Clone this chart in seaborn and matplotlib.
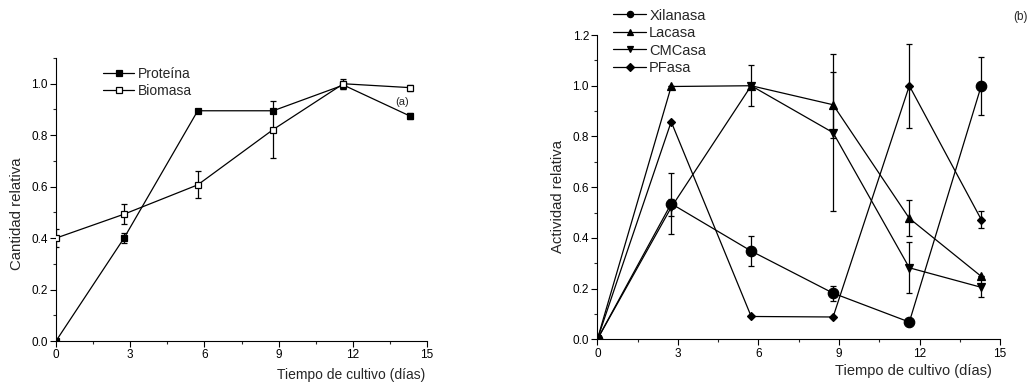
import matplotlib
matplotlib.use("Agg")
import matplotlib.pyplot as plt
from matplotlib.ticker import MultipleLocator
import seaborn as sns
import pandas as pd

sns.set_theme(style="ticks")
plt.rcParams["font.family"] = ["Liberation Sans", "DejaVu Sans"]

# Cultivation days (shared by both panels)
dias = [0, 2.75, 5.73, 8.78, 11.62, 14.3]

# Panel (a): relative amounts
proteina = [0.0, 0.40, 0.895, 0.895, 0.995, 0.875]
proteina_err = [0.0, 0.02, 0.0, 0.0, 0.015, 0.012]
biomasa = [0.40, 0.493, 0.607, 0.822, 1.0, 0.985]
biomasa_err = [0.035, 0.04, 0.053, 0.11, 0.02, 0.012]

# Panel (b): relative enzyme activities
xilanasa = [0.0, 0.535, 0.348, 0.182, 0.068, 1.0]
xilanasa_err = [0.0, 0.121, 0.06, 0.03, 0.0, 0.115]
lacasa = [0.0, 0.997, 1.0, 0.925, 0.477, 0.248]
lacasa_err = [0.0, 0.0, 0.0, 0.13, 0.071, 0.0]
cmcasa = [0.0, 0.52, 1.0, 0.815, 0.282, 0.205]
cmcasa_err = [0.0, 0.035, 0.08, 0.31, 0.101, 0.04]
pfasa = [0.0, 0.858, 0.09, 0.088, 1.0, 0.472]
pfasa_err = [0.0, 0.0, 0.0, 0.0, 0.165, 0.033]

fig = plt.figure(figsize=(10.31, 3.9), dpi=100)
ax_a = fig.add_axes([0.0543, 0.1256, 0.3599, 0.7256])
ax_b = fig.add_axes([0.5794, 0.1300, 0.3906, 0.7802])


def draw_series(ax, y, err, label, marker, ms, mfc="black"):
    df = pd.DataFrame({"x": dias, "y": y})
    sns.lineplot(data=df, x="x", y="y", ax=ax, color="black", lw=0.9,
                 marker=marker, markersize=ms, markerfacecolor=mfc,
                 markeredgecolor="black", markeredgewidth=0.9, label=label,
                 zorder=3)
    ax.errorbar(dias, y, yerr=err, fmt="none", ecolor="black",
                elinewidth=0.9, capsize=2.5, capthick=0.9, zorder=2)


def style_axes(ax, ymax, ystep):
    ax.set_xlim(0, 15)
    ax.set_ylim(0, ymax)
    ax.xaxis.set_major_locator(MultipleLocator(3))
    ax.xaxis.set_minor_locator(MultipleLocator(1.5))
    ax.yaxis.set_major_locator(MultipleLocator(ystep))
    ax.yaxis.set_minor_locator(MultipleLocator(ystep / 2))
    ax.tick_params(which="major", direction="out", length=4, width=0.8,
                   labelsize=8.5, pad=2, colors="black")
    ax.tick_params(which="minor", direction="out", length=2.5, width=0.8)
    ax.yaxis.set_major_formatter(plt.FuncFormatter(lambda v, p: f"{v:.1f}"))
    for s in ("top", "right"):
        ax.spines[s].set_visible(False)
    for s in ("left", "bottom"):
        ax.spines[s].set_linewidth(0.8)
        ax.spines[s].set_color("black")
    ax.set_xlabel("")
    ax.set_ylabel("")


def make_legend(ax, anchor, fontsize, spacing):
    leg = ax.legend(loc="upper left", bbox_to_anchor=anchor, frameon=False,
                    fontsize=fontsize, handlelength=2.2, handletextpad=0.25,
                    labelspacing=spacing, borderpad=0.0, borderaxespad=0.0)
    for h in leg.legend_handles:
        h.set_markersize(4.5)
        h.set_linewidth(0.9)
    return leg


# Panel (a)
draw_series(ax_a, proteina, proteina_err, "Proteína", "s", 4.5)
draw_series(ax_a, biomasa, biomasa_err, "Biomasa", "s", 4.5, mfc="white")
style_axes(ax_a, 1.1, 0.2)
fig.text(0.0165, 0.451, "Cantidad relativa", rotation=90, ha="center",
         va="center", fontsize=10.8)
fig.text(0.4125, 0.021, "Tiempo de cultivo (días)", ha="right", va="bottom", fontsize=10)
fig.text(0.383, 0.738, "(a)", ha="left", va="center", fontsize=8)
make_legend(ax_a, (0.128, 0.968), 10, 0.22)

# Panel (b)
draw_series(ax_b, xilanasa, xilanasa_err, "Xilanasa", "o", 7.5)
draw_series(ax_b, lacasa, lacasa_err, "Lacasa", "^", 5.5)
draw_series(ax_b, cmcasa, cmcasa_err, "CMCasa", "v", 5.5)
draw_series(ax_b, pfasa, pfasa_err, "PFasa", "D", 4.2)
style_axes(ax_b, 1.2, 0.2)
fig.text(0.541, 0.495, "Actividad relativa", rotation=90, ha="center",
         va="center", fontsize=10.7)
fig.text(0.962, 0.03, "Tiempo de cultivo (días)", ha="right", va="bottom", fontsize=10.5)
fig.text(0.9825, 0.957, "(b)", ha="left", va="center", fontsize=8.5)
make_legend(ax_b, (0.04, 1.087), 10.5, 0.24)

fig.savefig("out.png", dpi=100, facecolor="white")
